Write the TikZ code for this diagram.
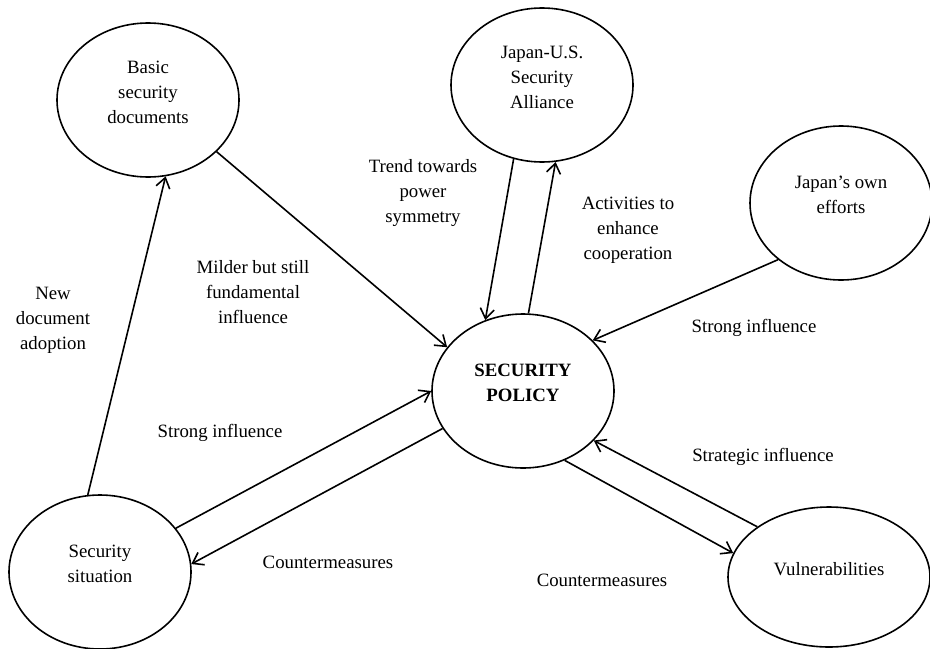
\documentclass[tikz,border=0pt]{standalone}
\usepackage{fontspec}
\setmainfont{Liberation Serif}
\usetikzlibrary{arrows.meta, shapes.geometric}

\begin{document}
\begin{tikzpicture}[x=0.5pt, y=-0.5pt, font=\fontsize{9.4}{12.5}\selectfont,
  factor/.style={draw, ellipse, line width=0.8pt, minimum width=91pt, minimum height=77pt},
  factortext/.style={align=center, yshift=4pt},
  link/.style={line width=0.8pt, -{Straight Barb[length=5pt, width=7pt]}},
  note/.style={align=center}]
  \useasboundingbox (0,0) rectangle (930,648);
  % factors
  \node[factor, label={[factortext]center:Basic\\security\\documents}] (docs) at (148,100) {};
  \node[factor, label={[factortext]center:Japan-U.S.\\Security\\Alliance}] (alliance) at (542,85) {};
  \node[factor, label={[factortext]center:Japan's own\\efforts}] (own) at (841,203) {};
  \node[factor, label={[factortext]center:\textbf{SECURITY}\\\textbf{POLICY}}] (policy) at (523,391) {};
  \node[factor, label={[factortext]center:Security\\situation}] (situation) at (100,572) {};
  \node[factor, minimum width=101pt, minimum height=70pt, label={[factortext]center:Vulnerabilities}] (vuln) at (829,577) {};
  % influences
  \draw[link] (situation.99.7) -- (docs.-77.3);
  \draw[link] (docs.-37.5) -- (policy.150);
  \draw[link] (alliance.-111.3) -- (policy.118.2);
  \draw[link] (policy.86.2) -- (alliance.-80.5);
  \draw[link] (own.-138) -- (policy.36.6);
  \draw[link] (situation.30.3) -- (policy.180.6);
  \draw[link] (policy.205.4) -- (situation.5.6);
  \draw[link] (policy.-59.9) -- (vuln.166.1);
  \draw[link] (vuln.145.8) -- (policy.-35.5);
  % labels
  \node[note] (newdoc) at (53,320) {New\\document\\adoption};
  \node[note] (milder) at (253,292) {Milder but still\\fundamental\\influence};
  \node[note] (trend) at (423,193) {Trend towards\\power\\symmetry};
  \node[note] (activities) at (628,230) {Activities to\\enhance\\cooperation};
  \node[note] (strongown) at (754,328) {Strong influence};
  \node[note] (strongsit) at (220,433) {Strong influence};
  \node[note] (countersit) at (328,562) {Countermeasures};
  \node[note] (strategic) at (763,457) {Strategic influence};
  \node[note] (countervul) at (602,580) {Countermeasures};
\end{tikzpicture}
\end{document}
